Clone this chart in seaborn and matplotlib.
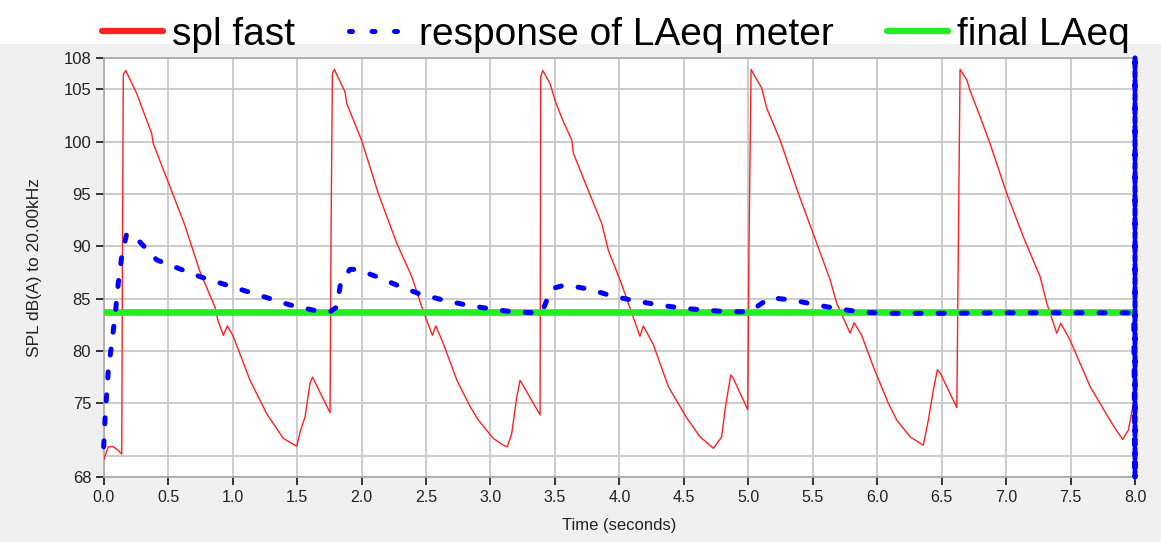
import matplotlib
matplotlib.use("Agg")
import matplotlib.pyplot as plt
from matplotlib.lines import Line2D
from matplotlib.patches import Rectangle
import seaborn as sns
import pandas as pd

# ---------------- data ----------------
spl_t = [0.000, 0.036, 0.075, 0.113, 0.140, 0.145, 0.152, 0.171, 0.256, 0.295,
         0.372, 0.385, 0.514, 0.630, 0.746, 0.863, 0.889, 0.928, 0.959, 1.005,
         1.135, 1.265, 1.393, 1.497, 1.528, 1.562, 1.600, 1.620, 1.756, 1.763,
         1.774, 1.789, 1.872, 1.885, 2.000, 2.130, 2.273, 2.390, 2.480, 2.550,
         2.576, 2.635, 2.740, 2.842, 2.906, 3.022, 3.100, 3.131, 3.165, 3.204,
         3.230, 3.385, 3.390, 3.406, 3.462, 3.509, 3.566, 3.631, 3.643, 3.747,
         3.863, 3.915, 4.005, 4.083, 4.160, 4.186, 4.264, 4.380, 4.523, 4.626,
         4.730, 4.794, 4.820, 4.864, 4.884, 4.996, 5.006, 5.022, 5.053, 5.105,
         5.143, 5.247, 5.389, 5.531, 5.635, 5.687, 5.790, 5.821, 5.880, 5.970,
         6.087, 6.152, 6.255, 6.358, 6.397, 6.436, 6.467, 6.488, 6.618, 6.630,
         6.643, 6.695, 6.720, 6.798, 6.876, 7.005, 7.134, 7.264, 7.316, 7.393,
         7.424, 7.496, 7.652, 7.781, 7.846, 7.905, 7.949, 7.988]
spl_v = [69.6, 70.85, 70.85, 70.5, 70.15, 88.0, 106.4, 106.8, 104.6, 103.3,
         100.8, 99.8, 95.7, 92.0, 87.6, 84.2, 82.8, 81.5, 82.4, 81.4,
         77.2, 74.0, 71.65, 70.9, 72.45, 73.7, 76.9, 77.5, 74.1, 90.3,
         106.5, 106.9, 104.75, 103.65, 100.15, 95.05, 90.3, 87.1, 83.75, 81.5,
         82.4, 80.7, 77.2, 74.7, 73.4, 71.65, 71.0, 70.85, 72.1, 75.6,
         77.2, 73.9, 106.2, 106.8, 105.55, 103.65, 101.9, 100.15, 98.9, 95.7,
         92.2, 89.6, 86.8, 84.1, 81.4, 82.4, 80.6, 76.6, 73.6, 71.8,
         70.7, 71.8, 74.4, 77.7, 77.4, 74.4, 90.6, 106.9, 106.2, 105.1,
         103.2, 100.15, 95.05, 90.3, 86.8, 84.55, 81.7, 82.7, 81.5, 78.5,
         75.0, 73.4, 71.8, 71.0, 73.4, 76.3, 78.2, 77.9, 74.6, 90.6,
         106.9, 105.9, 104.9, 102.4, 99.8, 95.05, 90.9, 87.1, 84.55, 81.7,
         82.65, 81.05, 76.6, 73.9, 72.6, 71.55, 72.45, 75.0]

meter_t = [0.000, 0.010, 0.036, 0.062, 0.088, 0.113, 0.140, 0.178, 0.282, 0.411,
           0.579, 0.747, 0.928, 1.096, 1.265, 1.445, 1.626, 1.756, 1.808, 1.838,
           1.910, 1.963, 2.118, 2.273, 2.440, 2.622, 2.790, 2.984, 3.165, 3.346,
           3.398, 3.449, 3.488, 3.579, 3.773, 3.941, 4.122, 4.303, 4.484, 4.665,
           4.846, 5.000, 5.040, 5.169, 5.350, 5.531, 5.712, 5.893, 6.074, 6.500,
           7.000, 7.500, 7.990, 8.000, 8.000, 8.000, 8.000]
meter_v = [70.85, 73.4, 78.2, 80.7, 83.3, 86.5, 89.0, 91.2, 90.4, 88.7,
           87.9, 87.1, 86.4, 85.75, 85.1, 84.4, 83.9, 83.75, 84.2, 86.5,
           87.8, 87.8, 87.1, 86.3, 85.5, 84.9, 84.45, 84.05, 83.75, 83.65,
           83.65, 85.2, 86.0, 86.3, 85.9, 85.25, 84.8, 84.4, 84.1, 83.9,
           83.75, 83.75, 84.0, 85.1, 84.85, 84.4, 84.0, 83.7, 83.6, 83.6,
           83.65, 83.65, 83.65, 68.0, 108.0, 68.0, 108.0]

final_t = [0.0, 8.0]
final_v = [83.7, 83.7]

x_ticks = [0.0, 0.5, 1.0, 1.5, 2.0, 2.5, 3.0, 3.5, 4.0, 4.5, 5.0, 5.5, 6.0, 6.5, 7.0, 7.5, 8.0]
y_ticks = [68, 75, 80, 85, 90, 95, 100, 105, 108]
y_minor = [70]

labels = ["spl fast", "response of LAeq meter", "final LAeq"]
x_label = "Time (seconds)"
y_label = "SPL dB(A) to 20.00kHz"

# ---------------- style ----------------
sns.set_style("white")
plt.rcParams["font.family"] = ["Liberation Sans", "DejaVu Sans"]

RED = "#ff2020"
BLUE = "#0000ff"
GREEN = "#22ee22"
GRID = "#c8c8c8"

fig = plt.figure(figsize=(11.61, 5.42), dpi=100, facecolor="#f0f0f0")
fig.patches.append(Rectangle((0, 1 - 44 / 542), 1, 44 / 542, transform=fig.transFigure,
                             facecolor="white", edgecolor="none", zorder=0))
ax = fig.add_axes([103.7 / 1161, (542 - 476.6) / 542, (1135 - 103.7) / 1161, (476.6 - 57.9) / 542])
ax.set_facecolor("white")

spl_df = pd.DataFrame({"t": spl_t, "v": spl_v})
meter_df = pd.DataFrame({"t": meter_t, "v": meter_v})
final_df = pd.DataFrame({"t": final_t, "v": final_v})

sns.lineplot(data=spl_df, x="t", y="v", ax=ax, color=RED, lw=1.0,
             estimator=None, sort=False, legend=False, zorder=3)
sns.lineplot(data=final_df, x="t", y="v", ax=ax, color=GREEN, lw=4.8,
             estimator=None, sort=False, legend=False, zorder=4,
             solid_capstyle="round")
sns.lineplot(data=meter_df, x="t", y="v", ax=ax, color=BLUE, lw=3.6,
             linestyle=(0, (1.2, 3.4)), dash_capstyle="round",
             estimator=None, sort=False, legend=False, zorder=5, clip_on=False)

ax.set_xlim(0, 8)
ax.set_ylim(68, 108)
ax.set_xticks(x_ticks)
ax.set_xticklabels([f"{v:.1f}" for v in x_ticks])
ax.set_yticks(y_ticks)
ax.set_yticklabels([str(v) for v in y_ticks])
ax.set_yticks(y_minor, minor=True)
ax.tick_params(axis="both", which="major", direction="out", length=6, width=1.4,
               color="#333333", labelcolor="#222222", labelsize=12, pad=3,
               bottom=True, left=True)
ax.tick_params(axis="y", which="minor", length=0, left=False)
ax.tick_params(axis="x", which="major", labelsize=11.5, pad=4)
ax.grid(True, which="major", color=GRID, lw=1.3, zorder=0)
ax.grid(True, which="minor", axis="y", color=GRID, lw=1.3, zorder=0)
ax.set_axisbelow(True)
for s in ax.spines.values():
    s.set_color("#a8a8a8")
    s.set_linewidth(1.2)

ax.set_xlabel(x_label, fontsize=12, color="#222222")
ax.set_ylabel(y_label, fontsize=12.5, color="#222222")
ax.xaxis.set_label_coords(0.5, -0.10)
ax.yaxis.set_label_coords(-0.060, 0.5)

handles = [
    Line2D([], [], color=RED, lw=4.5, solid_capstyle="round"),
    Line2D([], [], color=BLUE, lw=3.6, linestyle=(0, (0.6, 3.9)), dash_capstyle="round"),
    Line2D([], [], color=GREEN, lw=4.5, solid_capstyle="round"),
]
leg = fig.legend(handles, labels, loc="center left", ncol=3, mode="expand",
                 bbox_to_anchor=(102 / 1161, 1 - 35 / 542, 1028 / 1161, 0.0),
                 frameon=False, fontsize=28, handlelength=1.57, handletextpad=0.23,
                 borderpad=0, borderaxespad=0, columnspacing=1.2)
for txt in leg.get_texts():
    txt.set_color("black")

fig.savefig("out.png", dpi=100, facecolor=fig.get_facecolor())
